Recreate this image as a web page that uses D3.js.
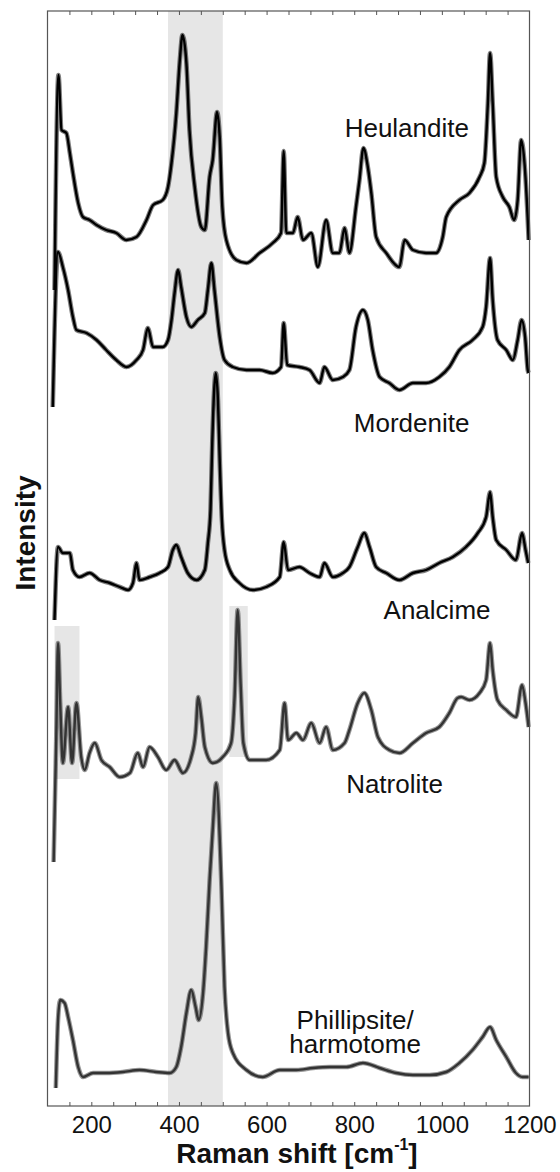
<!DOCTYPE html>
<html>
<head>
<meta charset="utf-8">
<script src="https://cdn.jsdelivr.net/npm/d3@7"></script>
<style>
  body { margin: 0; background: #fff; }
  svg { display: block; font-family: "Liberation Sans", Arial, sans-serif; }
</style>
</head>
<body>
<svg id="chart" width="560" height="1172"></svg>
<script>
// Raman shift [cm-1] vs stacked intensity (arbitrary units, offsets included)
const heulandite = [[116,816],[125,1031],[132,976],[143,973],[151,953],[158,933],[170,903],[181,889],[196,886],[212,881],[234,876],[257,873],[280,866],[303,869],[326,886],[341,901],[363,906],[375,919],[383,943],[394,993],[402,1046],[408,1071],[417,1043],[424,976],[436,919],[451,879],[459,876],[470,929],[477,946],[487,994],[493,969],[499,899],[508,866],[531,846],[554,843],[584,853],[614,863],[633,873],[639,955],[645,873],[660,873],[671,889],[683,866],[702,873],[717,839],[736,886],[751,853],[766,853],[778,878],[789,853],[804,899],[812,926],[821,958],[831,939],[839,913],[850,869],[873,853],[903,839],[915,866],[934,856],[964,853],[987,853],[1002,869],[1010,889],[1040,906],[1063,913],[1086,929],[1097,943],[1105,1003],[1110,1053],[1116,1003],[1124,929],[1139,909],[1154,899],[1165,886],[1173,906],[1181,966],[1188,946],[1196,886],[1198,866]];

const mordenite = [[112,699],[124,854],[135,839],[147,816],[158,789],[166,776],[189,773],[212,766],[234,756],[257,746],[280,739],[303,746],[318,756],[329,778],[341,759],[363,759],[375,766],[383,786],[390,813],[398,836],[405,819],[417,789],[428,779],[443,786],[459,793],[466,816],[474,843],[481,816],[493,769],[504,746],[523,739],[554,736],[584,736],[614,733],[633,739],[639,783],[647,741],[675,739],[698,736],[721,723],[732,739],[751,726],[774,729],[789,736],[804,779],[820,796],[831,786],[842,756],[858,729],[880,723],[903,716],[934,723],[964,723],[994,729],[1017,739],[1040,756],[1070,766],[1093,779],[1101,799],[1110,848],[1116,806],[1127,766],[1147,756],[1162,746],[1173,766],[1182,786],[1190,769],[1196,736],[1198,733]];

const analcime = [[116,486],[124,559],[135,553],[151,553],[158,536],[173,529],[196,533],[219,526],[242,523],[265,519],[284,516],[295,523],[303,543],[310,526],[333,529],[356,533],[375,539],[386,556],[394,561],[405,549],[420,533],[440,526],[459,536],[466,563],[472,596],[476,663],[480,713],[484,733],[489,706],[493,646],[498,586],[504,556],[516,536],[538,523],[569,516],[599,519],[630,529],[639,564],[649,536],[675,539],[698,533],[721,529],[732,543],[751,529],[774,533],[789,539],[808,559],[823,573],[835,559],[850,539],[873,533],[903,526],[934,533],[964,536],[994,543],[1025,549],[1055,559],[1082,573],[1101,589],[1110,614],[1116,589],[1124,566],[1147,556],[1169,546],[1183,573],[1191,556],[1197,543]];

const natrolite = [[114,244],[120,369],[124,463],[129,403],[135,343],[147,399],[156,343],[166,403],[177,349],[185,336],[196,353],[208,363],[223,346],[242,339],[265,329],[288,333],[306,353],[318,339],[333,359],[352,349],[371,336],[390,346],[409,333],[428,349],[438,373],[444,409],[451,389],[459,359],[477,343],[500,349],[519,363],[527,409],[534,496],[541,419],[547,363],[561,346],[599,346],[630,356],[641,403],[649,366],[668,373],[683,366],[702,383],[721,363],[736,379],[751,356],[778,363],[789,376],[808,403],[823,413],[839,396],[854,369],[880,356],[903,353],[934,363],[964,373],[994,379],[1017,393],[1036,408],[1044,409],[1063,406],[1086,413],[1101,426],[1110,463],[1116,436],[1127,406],[1147,396],[1169,389],[1183,421],[1191,403],[1198,379]];

const phillipsite = [[119,18],[124,86],[129,106],[139,103],[147,89],[158,66],[170,39],[181,29],[204,33],[234,33],[272,34],[310,36],[348,34],[379,33],[394,39],[405,59],[417,93],[428,116],[438,99],[445,86],[455,113],[462,159],[470,226],[477,276],[485,323],[497,219],[504,119],[512,73],[523,53],[554,36],[591,29],[630,36],[668,36],[706,38],[744,39],[782,39],[820,43],[858,38],[896,33],[934,31],[972,31],[1010,34],[1040,43],[1070,56],[1093,69],[1110,79],[1124,66],[1147,49],[1169,33],[1184,29],[1198,29]];

const seriesNames = ['Heulandite', 'Mordenite', 'Analcime', 'Natrolite', 'Phillipsite/harmotome'];
const seriesData = [heulandite, mordenite, analcime, natrolite, phillipsite];
const seriesColors = ['#000', '#000', '#000', '#333', '#333'];

// label anchor: [raman shift, intensity] of the first text baseline centre
const labelPos = [[920, 969], [931, 674], [989, 487], [892, 313], [802, 77]];

// shaded bands: [x0, x1, y0, y1]
const bands = [[375, 500, 0, 1095], [116, 173, 327, 480], [515, 557, 349, 500]];

const majorTicks = [200, 400, 600, 800, 1000, 1200];
const minorTicks = d3.range(150, 1200, 50);

const margin = { top: 11, right: 30.5, bottom: 66, left: 47.5 };
const width = 560;
const height = 1172;

const svg = d3.select('#chart');

const x = d3.scaleLinear().domain([100, 1200]).range([margin.left, width - margin.right]);
const y = d3.scaleLinear().domain([0, 1095]).range([height - margin.bottom, margin.top]);

svg.append('g')
  .selectAll('rect')
  .data(bands)
  .enter()
  .append('rect')
  .attr('x', (d) => x(d[0]))
  .attr('width', (d) => x(d[1]) - x(d[0]))
  .attr('y', (d) => y(d[3]))
  .attr('height', (d) => y(d[2]) - y(d[3]))
  .attr('fill', '#e6e6e6');

const line = d3.line()
  .x((d) => x(d[0]))
  .y((d) => y(d[1]))
  .curve(d3.curveMonotoneX);

const curves = svg.append('g');
seriesData.forEach((data, i) => {
  curves.append('path')
    .datum(data)
    .attr('fill', 'none')
    .attr('stroke', seriesColors[i])
    .attr('stroke-width', 4.6)
    .attr('stroke-opacity', 0.5)
    .attr('stroke-linejoin', 'round')
    .attr('d', line);
  curves.append('path')
    .datum(data)
    .attr('fill', 'none')
    .attr('stroke', seriesColors[i])
    .attr('stroke-width', 2.4)
    .attr('stroke-linejoin', 'round')
    .attr('d', line);
});

const labels = svg.append('g')
  .attr('font-size', '26px')
  .attr('fill', '#111')
  .attr('text-anchor', 'middle');
seriesNames.forEach((name, i) => {
  const parts = name.split('/');
  const t = labels.append('text')
    .attr('x', x(labelPos[i][0]))
    .attr('y', y(labelPos[i][1]));
  if (parts.length > 1) {
    t.append('tspan').attr('x', x(labelPos[i][0])).text(parts[0] + '/');
    t.append('tspan').attr('x', x(labelPos[i][0])).attr('dy', 24).text(parts[1]);
  } else {
    t.text(name);
  }
});

// frame
svg.append('rect')
  .attr('x', margin.left)
  .attr('y', margin.top)
  .attr('width', width - margin.left - margin.right)
  .attr('height', height - margin.top - margin.bottom)
  .attr('fill', 'none')
  .attr('stroke', '#555')
  .attr('stroke-width', 1.2);

const bottomY = height - margin.bottom;

const xAxis = svg.append('g')
  .attr('transform', 'translate(0,' + bottomY + ')')
  .call(d3.axisBottom(x).tickValues(majorTicks).tickSize(0).tickPadding(10).tickFormat(d3.format('d')));
xAxis.select('.domain').remove();
xAxis.selectAll('text')
  .attr('font-size', '24px')
  .attr('font-family', '"Liberation Sans", Arial, sans-serif')
  .attr('fill', '#111');

svg.append('g')
  .attr('transform', 'translate(0,' + bottomY + ')')
  .call(d3.axisBottom(x).tickValues(minorTicks).tickSize(-4).tickFormat(''))
  .call((g) => g.select('.domain').remove())
  .selectAll('line').attr('stroke', '#555');

svg.append('g')
  .attr('transform', 'translate(0,' + margin.top + ')')
  .call(d3.axisTop(x).tickValues(minorTicks).tickSize(-4).tickFormat(''))
  .call((g) => g.select('.domain').remove())
  .selectAll('line').attr('stroke', '#555');

const xTitle = svg.append('text')
  .attr('x', 297)
  .attr('y', 1163)
  .attr('text-anchor', 'middle')
  .attr('font-size', '28px')
  .attr('font-weight', 'bold')
  .attr('fill', '#111');
xTitle.append('tspan').text('Raman shift [cm');
xTitle.append('tspan').attr('font-size', '16px').attr('dy', -13).text('-1');
xTitle.append('tspan').attr('dy', 13).text(']');

svg.append('text')
  .attr('transform', 'translate(35,' + 533 + ') rotate(-90)')
  .attr('text-anchor', 'middle')
  .attr('font-size', '28px')
  .attr('font-weight', 'bold')
  .attr('fill', '#111')
  .text('Intensity');
</script>
</body>
</html>
